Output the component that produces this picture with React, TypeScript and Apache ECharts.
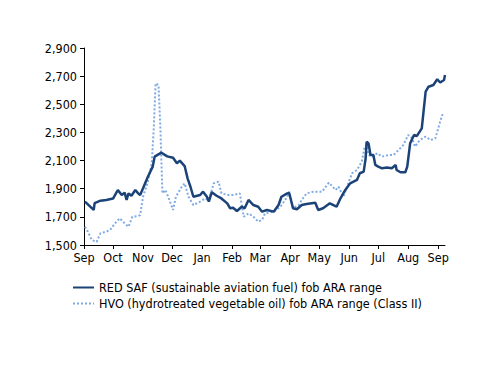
import React, { useEffect, useRef } from "react";
import * as echarts from "echarts";

const safDates = [
  "2023-09-02","2023-09-11","2023-09-12","2023-09-18","2023-09-24","2023-10-01","2023-10-05","2023-10-06",
  "2023-10-10","2023-10-13","2023-10-15","2023-10-17","2023-10-20","2023-10-24","2023-10-27","2023-10-29",
  "2023-11-01","2023-11-06","2023-11-11","2023-11-13","2023-11-20","2023-11-26","2023-12-02","2023-12-06",
  "2023-12-09","2023-12-14","2023-12-17","2023-12-20","2023-12-23","2023-12-30","2024-01-02","2024-01-06",
  "2024-01-08","2024-01-11","2024-01-16","2024-01-21","2024-01-27","2024-01-30","2024-02-02","2024-02-06",
  "2024-02-11","2024-02-14","2024-02-18","2024-02-23","2024-02-28","2024-03-03","2024-03-08","2024-03-15",
  "2024-03-20","2024-03-23","2024-03-29","2024-03-31","2024-04-04","2024-04-08","2024-04-13","2024-04-18",
  "2024-04-27","2024-04-30","2024-05-05","2024-05-12","2024-05-19","2024-05-23","2024-05-28","2024-06-02",
  "2024-06-09","2024-06-12","2024-06-16","2024-06-18","2024-06-19","2024-06-21","2024-06-23","2024-06-26",
  "2024-06-28","2024-07-01","2024-07-05","2024-07-10","2024-07-15","2024-07-19","2024-07-20","2024-07-24",
  "2024-07-29","2024-07-31","2024-08-03","2024-08-07","2024-08-10","2024-08-15","2024-08-19","2024-08-22",
  "2024-08-27","2024-08-31","2024-09-03","2024-09-07","2024-09-08",
];
const safValues = [
  1808,1749,1798,1815,1820,1830,1879,1890,
  1855,1872,1820,1867,1850,1891,1867,1855,
  1903,1985,2057,2128,2156,2130,2120,2081,
  2100,2061,1974,1914,1843,1855,1879,1843,
  1808,1875,1850,1831,1796,1761,1765,1742,
  1772,1761,1820,1784,1772,1737,1749,1737,
  1784,1843,1867,1870,1761,1754,1784,1791,
  1800,1749,1761,1796,1772,1832,1891,1938,
  1962,2010,2021,2116,2234,2222,2140,2140,
  2069,2057,2045,2050,2045,2069,2033,2017,
  2017,2057,2223,2282,2275,2329,2590,2625,
  2637,2678,2655,2673,2708,
];

const hvoDates = [
  "2023-09-02","2023-09-05","2023-09-09","2023-09-14","2023-09-18","2023-09-24","2023-09-28","2023-10-03",
  "2023-10-08","2023-10-13","2023-10-17","2023-10-21","2023-10-27","2023-10-29","2023-11-01","2023-11-06",
  "2023-11-10","2023-11-12","2023-11-14","2023-11-17","2023-11-19","2023-11-21","2023-11-24","2023-11-27",
  "2023-12-02","2023-12-05","2023-12-11","2023-12-14","2023-12-18","2023-12-23","2023-12-30","2024-01-04",
  "2024-01-08","2024-01-13","2024-01-18","2024-01-21","2024-01-28","2024-02-02","2024-02-09","2024-02-13",
  "2024-02-18","2024-02-23","2024-02-28","2024-03-03","2024-03-06","2024-03-15","2024-03-22","2024-03-29",
  "2024-03-31","2024-04-04","2024-04-10","2024-04-13","2024-04-18","2024-04-25","2024-05-04","2024-05-11",
  "2024-05-18","2024-05-21","2024-05-26","2024-05-31","2024-06-04","2024-06-09","2024-06-14","2024-06-17",
  "2024-06-19","2024-06-21","2024-06-25","2024-06-30","2024-07-05","2024-07-12","2024-07-17","2024-07-22",
  "2024-07-27","2024-08-01","2024-08-05","2024-08-08","2024-08-13","2024-08-19","2024-08-24","2024-08-29",
  "2024-09-01","2024-09-05","2024-09-07",
];
const hvoValues = [
  1630,1595,1536,1522,1583,1595,1607,1654,
  1690,1654,1630,1701,1706,1713,1843,1950,
  2081,2317,2649,2637,2317,1867,1891,1843,
  1749,1843,1914,1938,1843,1784,1808,1831,
  1820,1938,1950,1867,1855,1855,1867,1701,
  1725,1701,1666,1678,1725,1737,1772,1843,
  1879,1761,1784,1820,1867,1879,1879,1943,
  1891,1914,1843,1938,2010,2033,2092,2199,
  2211,2140,2128,2152,2128,2140,2140,2175,
  2211,2282,2258,2199,2246,2270,2246,2258,
  2329,2424,2424,
];

const monthTicks = [
  "2023-09-01","2023-10-01","2023-11-01","2023-12-01","2024-01-01","2024-02-01","2024-03-01",
  "2024-04-01","2024-05-01","2024-06-01","2024-07-01","2024-08-01","2024-09-01",
];
const monthLabels = ["Sep","Oct","Nov","Dec","Jan","Feb","Mar","Apr","May","Jun","Jul","Aug","Sep"];
const yTicks = [1500, 1700, 1900, 2100, 2300, 2500, 2700, 2900];

const seriesNames = [
  "RED SAF (sustainable aviation fuel) fob ARA range",
  "HVO (hydrotreated vegetable oil) fob ARA range (Class II)",
];

const FONT = "DejaVu Sans Condensed";
const FS = 12.5;
const DAY = 24 * 3600 * 1000;

export default function App() {
  const ref = useRef<HTMLDivElement>(null);
  useEffect(() => {
    if (!ref.current) return;
    const chart = echarts.init(ref.current, undefined, { renderer: "svg" });
    const toTime = (d: string) => new Date(d + "T00:00:00Z").getTime();
    const tickTimes = monthTicks.map(toTime);
    const labelFor = (v: number) => {
      const i = tickTimes.findIndex((t) => Math.abs(t - v) < DAY / 2);
      return i >= 0 ? monthLabels[i] : "";
    };
    chart.setOption({
      animation: false,
      textStyle: { fontFamily: FONT },
      grid: { left: 84, right: 55, top: 48, bottom: 141, containLabel: false },
      legend: {
        orient: "vertical",
        left: 67,
        top: 276,
        itemWidth: 21,
        itemHeight: 14,
        itemGap: 3,
        itemStyle: { opacity: 0 },
        textStyle: { fontFamily: FONT, fontSize: FS, color: "#000" },
        data: seriesNames,
      },
      xAxis: {
        type: "value",
        min: toTime("2023-09-01"),
        max: toTime("2024-09-08"),
        axisLine: { lineStyle: { color: "#000", width: 1 } },
        axisTick: { show: true, length: 4, lineStyle: { color: "#000" }, customValues: tickTimes },
        axisLabel: {
          customValues: tickTimes,
          formatter: (v: number) => labelFor(v),
          color: "#000",
          fontSize: FS,
          fontFamily: FONT,
          margin: 6,
        },
        splitLine: { show: false },
      },
      yAxis: {
        type: "value",
        min: 1500,
        max: 2900,
        interval: 200,
        axisLine: { show: true, lineStyle: { color: "#000", width: 1 } },
        axisTick: { show: true, length: 4, lineStyle: { color: "#000" } },
        axisLabel: {
          color: "#000",
          fontSize: FS,
          fontFamily: FONT,
          margin: 7,
          formatter: (v: number) => (yTicks.includes(v) ? v.toLocaleString("en-US") : ""),
        },
        splitLine: { show: false },
      },
      series: [
        {
          name: seriesNames[0],
          type: "line",
          symbol: "none",
          data: safDates.map((d, i) => [toTime(d), safValues[i]]),
          lineStyle: { color: "#1C4378", width: 2.5 },
          itemStyle: { color: "#1C4378" },
          z: 3,
        },
        {
          name: seriesNames[1],
          type: "line",
          symbol: "none",
          data: hvoDates.map((d, i) => [toTime(d), hvoValues[i]]),
          lineStyle: { color: "#7FAAE3", width: 2, type: [2, 2] },
          itemStyle: { color: "#7FAAE3" },
          z: 2,
        },
      ],
    });
    return () => chart.dispose();
  }, []);
  return <div ref={ref} style={{ width: 500, height: 386, position: "absolute", left: 0, top: 0 }} />;
}
